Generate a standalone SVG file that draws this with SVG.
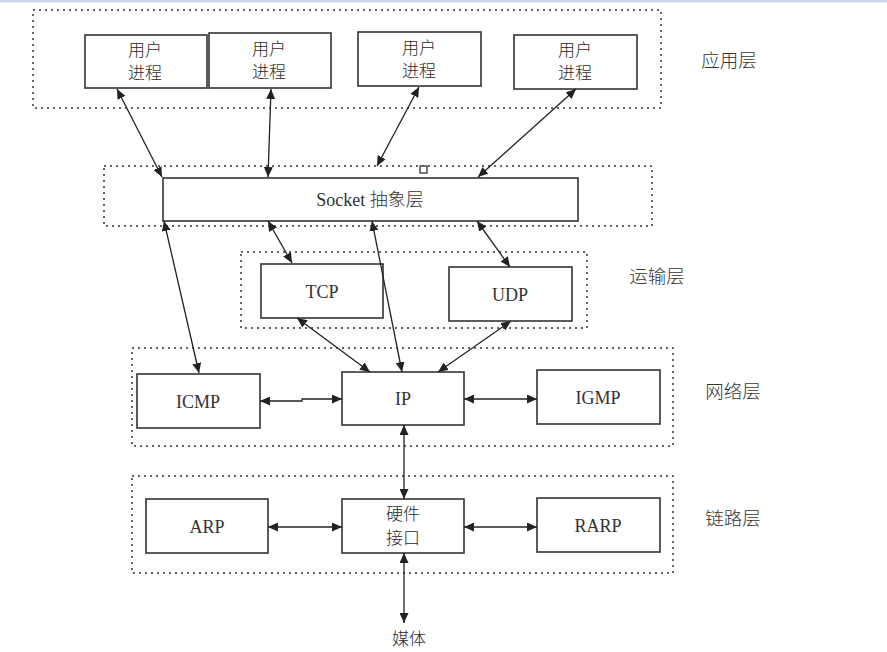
<svg xmlns="http://www.w3.org/2000/svg" width="887" height="652" viewBox="0 0 887 652">
<defs>
<marker id="ah" markerUnits="userSpaceOnUse" markerWidth="11" markerHeight="9" refX="10" refY="4.5" orient="auto-start-reverse">
<path d="M0,0 L10,4.5 L0,9 z" fill="#222"/>
</marker>
<style>
.layer{fill:none;stroke:#333;stroke-width:1.5;stroke-dasharray:2 4}
.box{fill:#fff;stroke:#333;stroke-width:1.6}
.lat{font-family:"Liberation Serif","Noto Sans CJK SC",serif;font-size:18px;font-weight:normal;fill:#333;text-anchor:middle}
.cjk{font-family:"Noto Sans CJK SC",sans-serif;font-size:17px;font-weight:300;fill:#2a2a2a;text-anchor:middle}
.lbl{font-family:"Noto Sans CJK SC",sans-serif;font-size:18.5px;font-weight:300;fill:#333;text-anchor:middle}
.conn{fill:none;stroke:#222;stroke-width:1.3;marker-start:url(#ah);marker-end:url(#ah)}
</style>
</defs>
<rect x="0" y="0" width="887" height="652" fill="#fff"/>
<rect x="0" y="0" width="887" height="2.5" fill="#c9d6e8"/>

<g id="layers">
<rect class="layer" x="33" y="10" width="628" height="98"/>
<rect class="layer" x="104" y="166" width="548" height="60"/>
<rect class="layer" x="241" y="252" width="346" height="76"/>
<rect class="layer" x="132" y="348" width="541" height="98"/>
<rect class="layer" x="132" y="476" width="541" height="97"/>
</g>

<g id="layer-labels">
<text class="lbl" x="729" y="67">应用层</text>
<text class="lbl" x="657" y="283">运输层</text>
<text class="lbl" x="733" y="398">网络层</text>
<text class="lbl" x="733" y="525">链路层</text>
</g>

<g id="user1"><rect class="box" x="85" y="35" width="122" height="53"/><text class="cjk" x="145" y="56">用户</text><text class="cjk" x="145" y="79">进程</text></g>
<g id="user2"><rect class="box" x="209" y="33" width="122" height="55"/><text class="cjk" x="269" y="55">用户</text><text class="cjk" x="269" y="78">进程</text></g>
<g id="user3"><rect class="box" x="358" y="32" width="123" height="54"/><text class="cjk" x="419" y="54">用户</text><text class="cjk" x="419" y="77">进程</text></g>
<g id="user4"><rect class="box" x="514" y="35" width="123" height="54"/><text class="cjk" x="575" y="56">用户</text><text class="cjk" x="575" y="79">进程</text></g>

<g id="socket"><rect class="box" x="163" y="178" width="415" height="43"/><text class="lat" x="370" y="206">Socket <tspan font-family="Noto Sans CJK SC, sans-serif" font-weight="300">抽象层</tspan></text></g>
<g id="marker-square"><rect x="420" y="166" width="7" height="7" fill="#fff" stroke="#222" stroke-width="1.2"/></g>

<g id="tcp"><rect class="box" x="261" y="264" width="122" height="54"/><text class="lat" x="322" y="298">TCP</text></g>
<g id="udp"><rect class="box" x="449" y="267" width="123" height="54"/><text class="lat" x="510" y="301">UDP</text></g>

<g id="icmp"><rect class="box" x="137" y="374" width="123" height="54"/><text class="lat" x="198" y="408">ICMP</text></g>
<g id="ip"><rect class="box" x="342" y="372" width="122" height="53"/><text class="lat" x="403" y="405">IP</text></g>
<g id="igmp"><rect class="box" x="537" y="370" width="123" height="54"/><text class="lat" x="598" y="404">IGMP</text></g>

<g id="arp"><rect class="box" x="146" y="499" width="122" height="54"/><text class="lat" x="207" y="533">ARP</text></g>
<g id="hw"><rect class="box" x="342" y="499" width="122" height="54"/><text class="cjk" x="403" y="520">硬件</text><text class="cjk" x="403" y="544">接口</text></g>
<g id="rarp"><rect class="box" x="537" y="498" width="123" height="54"/><text class="lat" x="598" y="532">RARP</text></g>

<g id="media"><text class="cjk" x="409" y="645" font-size="18">媒体</text></g>

<g id="connectors">
<path class="conn" d="M117,89 L162,177"/>
<path class="conn" d="M271,89 L268,177"/>
<path class="conn" d="M419,87 L377,166"/>
<path class="conn" d="M576,89 L478,177"/>
<path class="conn" d="M164,221 L199,373"/>
<path class="conn" d="M268,221 L292,263"/>
<path class="conn" d="M372,221 L402,372"/>
<path class="conn" d="M477,221 L510,267"/>
<path class="conn" d="M297,318 L370,372"/>
<path class="conn" d="M511,321 L438,372"/>
<path class="conn" d="M260,401 H302 V399 H342"/>
<path class="conn" d="M464,399 H537"/>
<path class="conn" d="M404,425 V499"/>
<path class="conn" d="M268,527 H342"/>
<path class="conn" d="M464,527 H537"/>
<path class="conn" d="M404,553 V623"/>
</g>
</svg>
